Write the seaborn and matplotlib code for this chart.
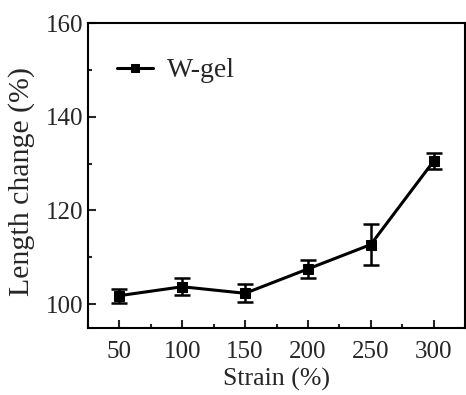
import matplotlib
matplotlib.use("Agg")
import matplotlib.pyplot as plt
import seaborn as sns
import pandas as pd
from matplotlib.ticker import MultipleLocator

strain = [50, 100, 150, 200, 250, 300]
length_change = [101.8, 103.7, 102.3, 107.5, 112.7, 130.5]
error = [1.5, 1.8, 1.9, 2.0, 4.4, 1.7]

sns.set_theme(style="ticks")
plt.rcParams['font.family'] = ['Liberation Serif', 'DejaVu Serif']
plt.rcParams['mathtext.fontset'] = 'stix'

df = pd.DataFrame({"Strain": strain, "Length": length_change, "err": error})

fig = plt.figure(figsize=(4.66, 3.95), dpi=100)
ax = fig.add_axes([88/466, 1 - 327.5/395, (465 - 88)/466, (327.5 - 23)/395])

ax.errorbar(df["Strain"], df["Length"], yerr=df["err"], fmt="none",
            ecolor="black", elinewidth=1.8, capsize=5.5, capthick=1.8, zorder=2)
sns.lineplot(data=df, x="Strain", y="Length", ax=ax, color="black",
             linewidth=2.2, marker="s", markersize=6.5, markeredgecolor="black",
             label="W-gel", zorder=3)

ax.set_xlim(25, 325)
ax.set_ylim(95, 160)
ax.set_xticks(strain)
ax.set_yticks([100, 120, 140, 160])
ax.xaxis.set_minor_locator(MultipleLocator(25))
ax.yaxis.set_minor_locator(MultipleLocator(10))
ax.tick_params(axis="both", which="major", direction="in", length=6, width=1.5,
               labelsize=18, top=False, right=False)
ax.tick_params(axis="x", which="major", pad=9.5)
ax.tick_params(axis="y", which="major", pad=3)
ax.tick_params(axis="both", which="minor", direction="in", length=3, width=1.5,
               top=False, right=False)
for s in ax.spines.values():
    s.set_linewidth(1.5)
    s.set_color("black")

ax.set_xlabel("Strain (%)", fontsize=18.6, labelpad=3.5)
ax.set_ylabel("Length change (%)", fontsize=21.5)
ax.yaxis.set_label_coords(-0.14, 0.48)

leg = ax.legend(loc="upper left", frameon=False, fontsize=20,
                bbox_to_anchor=(0.077, 0.885), borderpad=0, borderaxespad=0,
                handlelength=1.3, handletextpad=0.5, markerscale=0.8)

fig.savefig("out.png", dpi=100)
